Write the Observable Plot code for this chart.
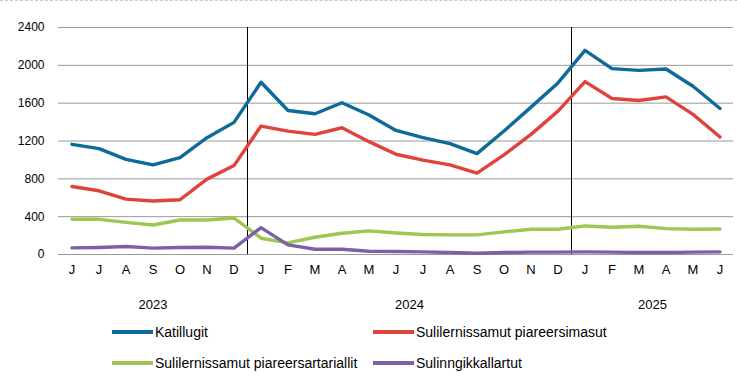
<!DOCTYPE html>
<html>
<head>
<meta charset="utf-8">
<script src="https://cdn.jsdelivr.net/npm/d3@7"></script>
<script src="https://cdn.jsdelivr.net/npm/@observablehq/plot@0.6"></script>
<style>
  body { margin: 0; background: #fff; }
  #wrap { position: relative; width: 737px; height: 389px; border-top: 1px dashed #c8c8c8; box-sizing: border-box; overflow: hidden; }
  #chart { position: absolute; left: 0; top: -1px; }
  .legend { position: absolute; font-family: "Liberation Sans Narrow", "Arial Narrow", "Liberation Sans", sans-serif; font-size: 14px; color: #000; display: flex; align-items: center; white-space: nowrap; }
  .legend .sw { display: inline-block; width: 41px; height: 4px; margin-right: 2px; }
</style>
</head>
<body>
<div id="wrap">
  <div id="chart"></div>
  <div id="legend"></div>
</div>
<script>
// Months Jun 2023 – Jun 2025
const monthLetters = ["J","J","A","S","O","N","D","J","F","M","A","M","J","J","A","S","O","N","D","J","F","M","A","M","J"];
const monthYears   = [2023,2023,2023,2023,2023,2023,2023,2024,2024,2024,2024,2024,2024,2024,2024,2024,2024,2024,2024,2025,2025,2025,2025,2025,2025];

const seriesNames = ["Katillugit", "Sulilernissamut piareersimasut", "Sulilernissamut piareersartariallit", "Sulinngikkallartut"];
const seriesColors = ["#0e6a99", "#e0433c", "#9cc852", "#7b5fa9"];

const katillugit   = [1165,1120,1005,948,1025,1235,1397,1821,1523,1488,1604,1475,1312,1235,1172,1067,1305,1558,1814,2158,1965,1947,1961,1779,1544];
const piareersimasut = [719,674,586,565,579,797,940,1358,1305,1270,1340,1193,1060,997,947,860,1053,1270,1516,1828,1649,1628,1667,1481,1242];
const piareersartariallit = [372,372,340,312,365,365,386,172,123,182,225,250,228,211,207,207,239,267,267,302,288,298,274,267,270];
const sulinngikkallartut = [70,74,84,67,74,77,67,284,102,56,56,35,32,28,21,14,21,25,25,28,25,21,21,25,28];

const yTicks = [0,400,800,1200,1600,2000,2400];

const allSeries = [katillugit, piareersimasut, piareersartariallit, sulinngikkallartut];
const rows = [];
allSeries.forEach((vals, s) => vals.forEach((v, i) => rows.push({i, v, s: seriesNames[s]})));

// year labels centred under their months; separators between December and January
const years = Array.from(new Set(monthYears));
const yearCenters = years.map(y => ({year: String(y), x: d3.mean(monthYears.map((yy, i) => yy === y ? i : null).filter(d => d !== null))}));
const separators = monthYears.map((y, i) => i > 0 && y !== monthYears[i - 1] ? i - 0.5 : null).filter(d => d !== null);

const narrow = '"Liberation Sans Narrow", "Arial Narrow", "Liberation Sans", sans-serif';

const chart = Plot.plot({
  width: 737,
  height: 320,
  marginLeft: 58,
  marginRight: 4,
  marginTop: 27,
  marginBottom: 66,
  style: {fontFamily: "Liberation Sans, Arial, sans-serif", fontSize: "12px", color: "#000", background: "transparent"},
  x: {type: "linear", domain: [-0.5, monthLetters.length - 0.5], axis: null},
  y: {domain: [0, 2400], axis: null},
  color: {domain: seriesNames, range: seriesColors},
  marks: [
    Plot.ruleY(yTicks, {stroke: "#9a9a9a", strokeWidth: 1}),
    Plot.axisY(yTicks, {tickSize: 0, tickPadding: 14, tickFormat: d => String(d), fontSize: 12, style: {letterSpacing: "1px"}, label: null}),
    Plot.axisX(d3.range(monthLetters.length), {tickSize: 0, tickPadding: 10, tickFormat: i => monthLetters[i], fontSize: 13, fontFamily: narrow, label: null}),
    Plot.text(yearCenters, {x: "x", text: "year", frameAnchor: "bottom", dy: 54, fontSize: 13, fontFamily: narrow}),
    Plot.ruleX(separators, {stroke: "#000", strokeWidth: 1}),
    Plot.line(rows, {x: "i", y: "v", z: "s", stroke: "s", strokeWidth: 3.4, strokeLinejoin: "round"})
  ]
});
document.getElementById("chart").appendChild(chart);

// Legend
const legendPos = [[112, 323], [373, 323], [112, 354], [373, 354]];
const legend = document.getElementById("legend");
seriesNames.forEach((name, k) => {
  const d = document.createElement("div");
  d.className = "legend";
  d.style.left = legendPos[k][0] + "px";
  d.style.top = legendPos[k][1] + "px";
  d.innerHTML = `<span class="sw" style="background:${seriesColors[k]}"></span><span>${name}</span>`;
  legend.appendChild(d);
});
</script>
</body>
</html>
